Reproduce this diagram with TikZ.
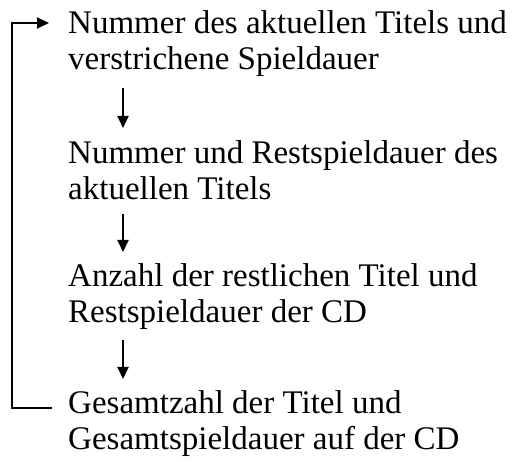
\documentclass[tikz,border=0pt]{standalone}
\usepackage{fontspec}
\setmainfont{Liberation Serif}
\usetikzlibrary{arrows.meta}
\begin{document}
\begin{tikzpicture}[x=1pt,y=-1pt,
  txt/.style={anchor=base west,inner sep=0pt,align=left,font=\fontsize{33}{36}\selectfont},
  conn/.style={line width=1.8pt,-{Triangle[length=12pt,width=11pt]}}]
\useasboundingbox (0,0) rectangle (515,462);
\node[txt] (n1) at (68,70) {Nummer des aktuellen Titels und\\verstrichene Spieldauer};
\node[txt] (n2) at (68,200) {Nummer und Restspieldauer des\\aktuellen Titels};
\node[txt] (n3) at (68,323) {Anzahl der restlichen Titel und\\Restspieldauer der CD};
\node[txt] (n4) at (68,450) {Gesamtzahl der Titel und\\Gesamtspieldauer auf der CD};
\coordinate (s1) at (123,88);  \coordinate (e1) at (123,128);
\coordinate (s2) at (123,214); \coordinate (e2) at (123,252);
\coordinate (s3) at (123,340); \coordinate (e3) at (123,379);
\coordinate (b4) at (52,408);  \coordinate (b1) at (49,23);
\draw[conn] (s1) -- (e1);
\draw[conn] (s2) -- (e2);
\draw[conn] (s3) -- (e3);
\draw[conn] (b4) -- (12,408) |- (b1);
\end{tikzpicture}
\end{document}
